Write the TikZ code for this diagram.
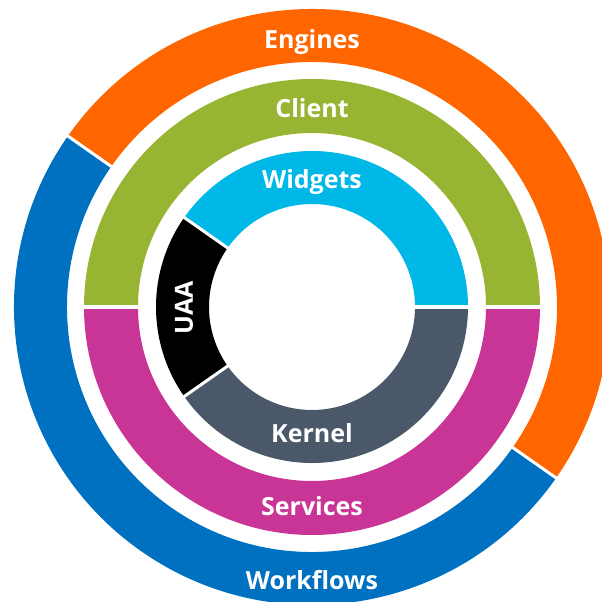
\documentclass[tikz,border=0pt]{standalone}
\usepackage{fontspec}
\setmainfont{Open Sans}
\usepackage{tikz}

\definecolor{engines}{RGB}{255,102,0}
\definecolor{workflows}{RGB}{0,112,192}
\definecolor{client}{RGB}{151,181,51}
\definecolor{services}{RGB}{201,53,150}
\definecolor{widgets}{RGB}{0,184,232}
\definecolor{kernel}{RGB}{74,88,106}

\tikzset{
	layer/.style={text=white,font=\fontsize{25}{30}\selectfont\bfseries,inner sep=0pt},
	gap/.style={draw=white,line width=#1}
}

\begin{document}
\begin{tikzpicture}[x=1pt,y=1pt]

	\useasboundingbox (-312,-295) rectangle (290,307);

	% outer ring
	\fill[engines]   (-35:298) arc[start angle=-35, end angle=145, radius=298] -- (145:245) arc[start angle=145, end angle=-35, radius=245] -- cycle;
	\fill[workflows] (145:298) arc[start angle=145, end angle=325, radius=298] -- (325:245) arc[start angle=325, end angle=145, radius=245] -- cycle;

	% middle ring
	\fill[client]   (0:228) arc[start angle=0, end angle=180, radius=228] -- (180:174) arc[start angle=180, end angle=0, radius=174] -- cycle;
	\fill[services] (180:228) arc[start angle=180, end angle=360, radius=228] -- (0:174) arc[start angle=360, end angle=180, radius=174] -- cycle;

	% inner ring
	\fill[widgets] (0:156) arc[start angle=0, end angle=145, radius=156] -- (145:103) arc[start angle=145, end angle=0, radius=103] -- cycle;
	\fill[black]   (145:156) arc[start angle=145, end angle=215, radius=156] -- (215:103) arc[start angle=215, end angle=145, radius=103] -- cycle;
	\fill[kernel]  (215:156) arc[start angle=215, end angle=360, radius=156] -- (0:103) arc[start angle=360, end angle=215, radius=103] -- cycle;

	% white separators
	\draw[gap=3pt] (145:240) -- (145:302);
	\draw[gap=3pt] (-35:240) -- (-35:302);
	\draw[gap=4pt] (180:232) -- (180:170);
	\draw[gap=4pt] (0:98) -- (0:232);
	\draw[gap=3pt] (145:98) -- (145:160);
	\draw[gap=3pt] (215:98) -- (215:160);

	% labels
	\node[layer] (engines)   at (0, 265)  {Engines};
	\node[layer] (client)    at (0, 199)  {Client};
	\node[layer] (widgets)   at (0, 125)  {Widgets};
	\node[layer,rotate=90] (uaa) at (-128, -1) {UAA};
	\node[layer] (kernel)    at (0, -126) {Kernel};
	\node[layer] (services)  at (0, -199) {Services};
	\node[layer] (workflows) at (0, -273) {Workflows};

\end{tikzpicture}
\end{document}
